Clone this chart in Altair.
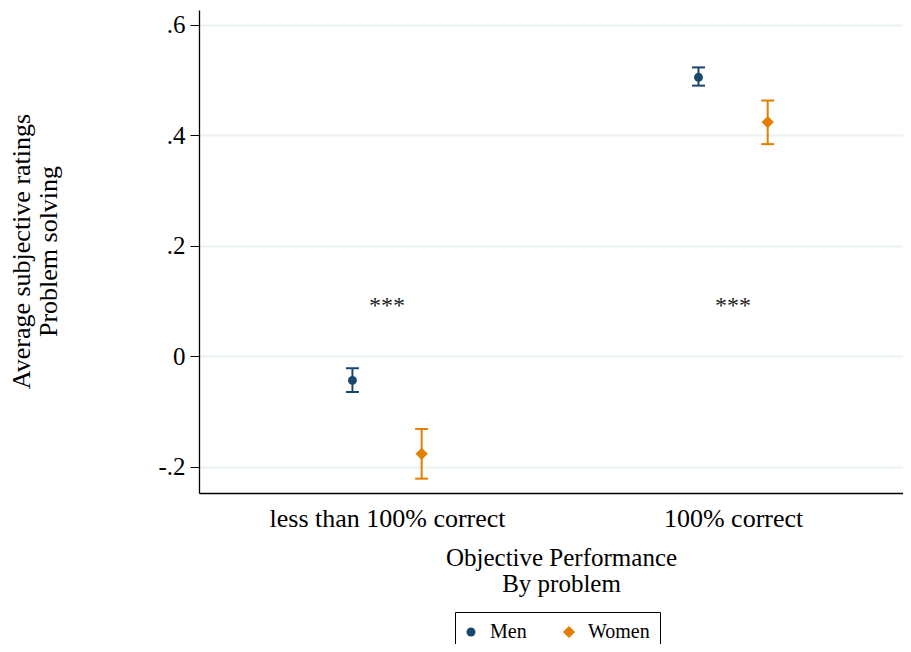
import altair as alt
import pandas as pd

# ---- data ----
groups = ["less than 100% correct", "100% correct"]
group_pos = [1, 2]
sexes = ["Men", "Women"]
sex_offset = [-0.1, 0.1]
means = {"Men": [-0.044, 0.505], "Women": [-0.177, 0.424]}
lows = {"Men": [-0.065, 0.490], "Women": [-0.222, 0.384]}
highs = {"Men": [-0.022, 0.523], "Women": [-0.132, 0.463]}
star_labels = ["***", "***"]
star_value = 0.1
y_ticks = [-0.2, 0, 0.2, 0.4, 0.6]

rows = []
for s, off in zip(sexes, sex_offset):
    for gi, g in enumerate(groups):
        rows.append({"sex": s, "group": g, "x": group_pos[gi] + off,
                     "mean": means[s][gi], "lo": lows[s][gi], "hi": highs[s][gi]})
df = pd.DataFrame(rows)
stars = pd.DataFrame({"x": group_pos, "y": [star_value] * 2, "label": star_labels})

NAVY = "#1a476f"
ORANGE = "#e37e00"
FONT = "Liberation Serif"

xscale = alt.Scale(domain=[0.4566, 2.491], nice=False, zero=False)
yscale = alt.Scale(domain=[-0.248, 0.627], nice=False, zero=False)

label_expr = "datum.value == 1 ? 'less than 100% correct' : (datum.value == 2 ? '100% correct' : '')"
ylabel_expr = ("datum.value == 0 ? '0' : (datum.value < 0 ? '-' + replace(format(-datum.value, '.1f'), '0.', '.')"
               " : replace(format(datum.value, '.1f'), '0.', '.'))")

xaxis = alt.Axis(values=group_pos, labelExpr=label_expr, ticks=False, grid=False,
                 domainColor="#000", domainWidth=1.3, labelFont=FONT, labelFontSize=26,
                 labelColor="#000", labelPadding=12, labelLimit=0,
                 title=["Objective Performance", "By problem"], titleFont=FONT,
                 titleFontSize=25, titleFontWeight="normal", titleColor="#000",
                 titleLineHeight=26, titlePadding=14, titleX=362, titleAlign="center")
yaxis = alt.Axis(values=y_ticks, labelExpr=ylabel_expr, tickSize=9, tickColor="#000",
                 domainColor="#000", domainWidth=1.3, grid=True, gridColor="#eaf2f3",
                 gridWidth=1.8, labelFont=FONT, labelFontSize=25, labelColor="#000",
                 labelPadding=5,
                 title=["Average subjective ratings", "Problem solving"], titleFont=FONT,
                 titleFontSize=26, titleFontWeight="normal", titleColor="#000",
                 titleLineHeight=27, titleAngle=-90, titleBaseline="top",
                 titleAlign="center", titleX=-191, titleY=241)

base = alt.Chart(df)
color_cond = alt.condition(alt.datum.sex == "Men", alt.value(NAVY), alt.value(ORANGE))

bars = base.mark_rule(strokeWidth=2).encode(
    x=alt.X("x:Q", scale=xscale, axis=xaxis),
    y=alt.Y("lo:Q", scale=yscale, axis=yaxis),
    y2="hi:Q",
    color=color_cond,
)
cap_lo = base.mark_rule(strokeWidth=2, xOffset=-6.5, x2Offset=6.5).encode(
    x="x:Q", x2="x:Q", y="lo:Q", color=color_cond)
cap_hi = base.mark_rule(strokeWidth=2, xOffset=-6.5, x2Offset=6.5).encode(
    x="x:Q", x2="x:Q", y="hi:Q", color=color_cond)

points = base.mark_point(filled=True, opacity=1).encode(
    x="x:Q",
    y="mean:Q",
    color=alt.Color("sex:N", scale=alt.Scale(domain=sexes, range=[NAVY, ORANGE]), title=None),
    shape=alt.Shape("sex:N", scale=alt.Scale(domain=sexes, range=["circle", "diamond"]), title=None),
    size=alt.Size("sex:N", scale=alt.Scale(domain=sexes, range=[80, 150]), title=None),
)

star_text = alt.Chart(stars).mark_text(font=FONT, fontSize=24, color="#222",
                                       baseline="middle", dy=5).encode(
    x="x:Q", y="y:Q", text="label:N")

chart = alt.layer(bars, cap_lo, cap_hi, points, star_text).properties(
    width=704, height=483,
    autosize=alt.AutoSizeParams(type="none"),
    padding={"left": 191, "top": 2, "right": 0, "bottom": 151},
).configure_view(stroke=None).configure_legend(
    orient="none", legendX=256, legendY=602, direction="horizontal",
    strokeColor="#000", padding=10, labelFont=FONT, labelFontSize=20,
    labelColor="#000", symbolStrokeWidth=0, columnPadding=35,
    labelOffset=9, symbolOffset=-4, fillColor="#fff",
)

chart.save("out.html", embed_options={"renderer": "svg", "actions": False})
